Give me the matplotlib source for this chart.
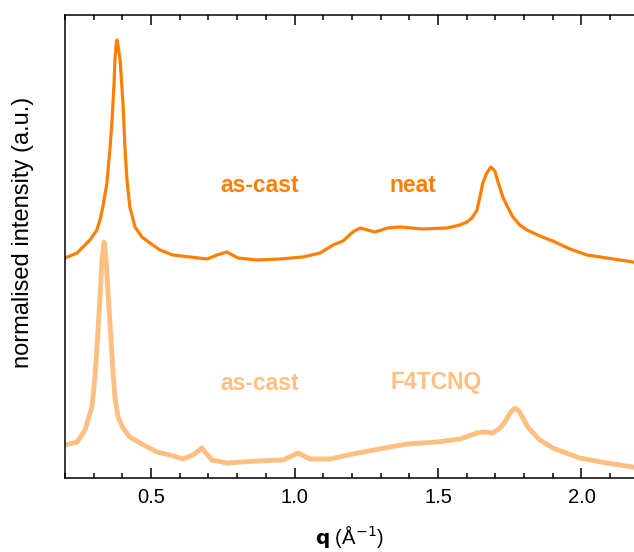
import matplotlib.pyplot as plt
from matplotlib.ticker import MultipleLocator, NullLocator

plt.rcParams['font.family'] = ['Liberation Sans', 'DejaVu Sans']

# scattering vector q (1/Angstrom) and intensity (offset, arbitrary units)
q_neat = [0.200, 0.242, 0.287, 0.311, 0.322, 0.332, 0.346, 0.357, 0.364, 0.371,
          0.374, 0.378, 0.381, 0.385, 0.392, 0.402, 0.409, 0.416, 0.426, 0.444,
          0.468, 0.496, 0.531, 0.576, 0.636, 0.695, 0.730, 0.764, 0.803, 0.869,
          0.949, 1.029, 1.089, 1.134, 1.169, 1.203, 1.228, 1.280, 1.325, 1.367,
          1.447, 1.531, 1.576, 1.601, 1.618, 1.636, 1.646, 1.656, 1.670, 1.684,
          1.698, 1.709, 1.726, 1.744, 1.761, 1.785, 1.810, 1.855, 1.900, 1.960,
          2.019, 2.088, 2.179]
i_neat = [220, 225, 238, 248, 258, 271, 295, 330, 358, 395,
          418, 432, 438, 432, 418, 375, 330, 298, 271, 251,
          241, 235, 228, 223, 221, 219, 223, 226, 220, 218,
          219, 221, 225, 233, 237, 246, 250, 246, 250, 251,
          249, 250, 253, 256, 260, 268, 281, 295, 305, 311,
          307, 296, 281, 270, 261, 253, 248, 242, 237, 229,
          223, 220, 216]

q_f4 = [0.200, 0.242, 0.252, 0.270, 0.280, 0.294, 0.301, 0.308, 0.322, 0.329,
        0.336, 0.343, 0.350, 0.360, 0.367, 0.374, 0.385, 0.402, 0.426, 0.461,
        0.521, 0.566, 0.611, 0.646, 0.677, 0.712, 0.764, 0.869, 0.960, 1.012,
        1.054, 1.123, 1.203, 1.332, 1.392, 1.496, 1.576, 1.636, 1.656, 1.691,
        1.716, 1.733, 1.751, 1.768, 1.782, 1.796, 1.813, 1.831, 1.855, 1.900,
        1.994, 2.088, 2.179]
i_f4 = [33, 36, 40, 48, 58, 71, 91, 115, 181, 218,
        236, 220, 185, 140, 108, 81, 61, 50, 41, 35,
        26, 23, 19, 23, 30, 18, 15, 17, 18, 25,
        19, 19, 24, 31, 34, 36, 39, 45, 46, 45,
        50, 56, 65, 70, 67, 60, 51, 45, 38, 30,
        20, 15, 11]

c_neat = '#ff7f00'
c_f4 = '#ffbf80'

fig = plt.figure(figsize=(6.34, 5.52), dpi=100)
ax = fig.add_axes([65 / 634, 1 - 478 / 552, 1 - 65 / 634, 463 / 552])

ax.plot(q_neat, i_neat, color=c_neat, lw=2.3, solid_joinstyle='round')
ax.plot(q_f4, i_f4, color=c_f4, lw=3.5, solid_joinstyle='round')

lbl = dict(fontsize=16.5, fontweight='bold', ha='center', va='center')
ax.text(0.879, 292, 'as-cast', color=c_neat, **lbl)
ax.text(1.413, 292, 'neat', color=c_neat, **lbl)
ax.text(0.879, 95, 'as-cast', color=c_f4, **lbl)
ax.text(1.493, 95, 'F4TCNQ', color=c_f4, **lbl)

ax.set_xlim(0.2, 2.183)
ax.set_ylim(0, 463)
ax.xaxis.set_major_locator(MultipleLocator(0.5))
ax.xaxis.set_minor_locator(MultipleLocator(0.1))
ax.yaxis.set_major_locator(NullLocator())
ax.tick_params(axis='x', which='both', direction='in', top=True, width=1.1,
               labelsize=14.5, pad=7)
ax.tick_params(axis='x', which='major', length=7)
ax.tick_params(axis='x', which='minor', length=3.5)
ax.spines['right'].set_visible(False)
for s in ['left', 'top', 'bottom']:
    ax.spines[s].set_linewidth(1.1)

ax.set_xlabel(r'$\mathbf{q}$ (Å$^{-1}$)', fontsize=14.5, labelpad=12)
ax.set_ylabel('normalised intensity (a.u.)', fontsize=17)
ax.yaxis.set_label_coords(-31 / 569, 0.53)

fig.savefig('out.png', dpi=100)
